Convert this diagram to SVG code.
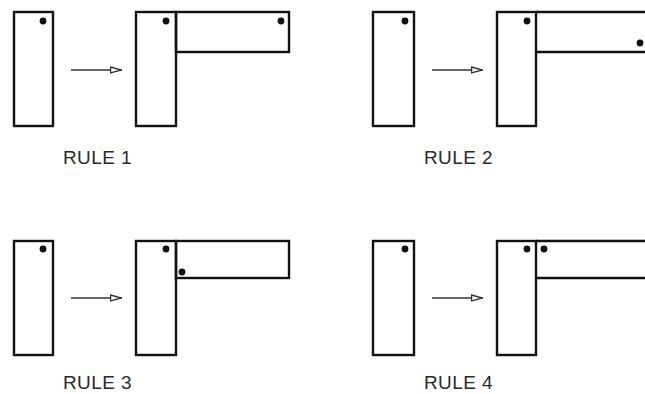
<svg xmlns="http://www.w3.org/2000/svg" width="645" height="394" viewBox="0 0 645 394">
<defs>
<style>
.box{fill:none;stroke:#111;stroke-width:2.4}
.dot{fill:#111}
.lbl{font-family:"Liberation Sans",Arial,sans-serif;font-size:19px;fill:#2a2a2a;letter-spacing:0.4px}
.arr{stroke:#333;stroke-width:1.3;fill:none}
</style>
<marker id="ah" viewBox="0 0 12 8" refX="12" refY="4" markerWidth="12" markerHeight="8" markerUnits="userSpaceOnUse" orient="auto">
<path d="M0.6,1 L11.4,4 L0.6,7 Z" fill="#fff" stroke="#333" stroke-width="1.3"/>
</marker>
</defs>
<rect width="645" height="394" fill="#fff"/>

<g id="rule1-before">
<rect class="box" x="14" y="12" width="39" height="114"/>
<circle class="dot" cx="43" cy="21" r="3.4"/>
</g>
<g id="rule1-after">
<rect class="box" x="136" y="12" width="40" height="114"/>
<rect class="box" x="176" y="12" width="113" height="40"/>
<circle class="dot" cx="166" cy="21" r="3.4"/>
<circle class="dot" cx="281" cy="21" r="3.4"/>
</g>
<text id="rule1-label" class="lbl" x="63" y="164">RULE 1</text>

<g id="rule2-before">
<rect class="box" x="373" y="12" width="41" height="114"/>
<circle class="dot" cx="405" cy="21" r="3.4"/>
</g>
<g id="rule2-after">
<rect class="box" x="497" y="12" width="39" height="114"/>
<path class="box" d="M536,12 H650 M536,52 H650"/>
<circle class="dot" cx="640" cy="43" r="3.4"/>
<circle class="dot" cx="527" cy="21" r="3.4"/>
</g>
<text id="rule2-label" class="lbl" x="424" y="164">RULE 2</text>

<g id="rule3-before">
<rect class="box" x="14" y="241" width="39" height="114"/>
<circle class="dot" cx="43" cy="249" r="3.4"/>
</g>
<g id="rule3-after">
<rect class="box" x="136" y="241" width="40" height="114"/>
<rect class="box" x="176" y="241" width="113" height="37"/>
<circle class="dot" cx="166" cy="249" r="3.4"/>
<circle class="dot" cx="182" cy="272" r="3.4"/>
</g>
<text id="rule3-label" class="lbl" x="63" y="389">RULE 3</text>

<g id="rule4-before">
<rect class="box" x="373" y="241" width="41" height="114"/>
<circle class="dot" cx="405" cy="249" r="3.4"/>
</g>
<g id="rule4-after">
<rect class="box" x="497" y="241" width="39" height="114"/>
<path class="box" d="M536,241 H650 M536,278 H650"/>
<circle class="dot" cx="527" cy="249" r="3.4"/>
<circle class="dot" cx="544" cy="249" r="3.4"/>
</g>
<text id="rule4-label" class="lbl" x="424" y="389">RULE 4</text>

<g id="connectors">
<path class="arr" d="M71,70 H122" marker-end="url(#ah)"/>
<path class="arr" d="M432,70 H483" marker-end="url(#ah)"/>
<path class="arr" d="M71,298 H122" marker-end="url(#ah)"/>
<path class="arr" d="M432,298 H483" marker-end="url(#ah)"/>
</g>
</svg>
